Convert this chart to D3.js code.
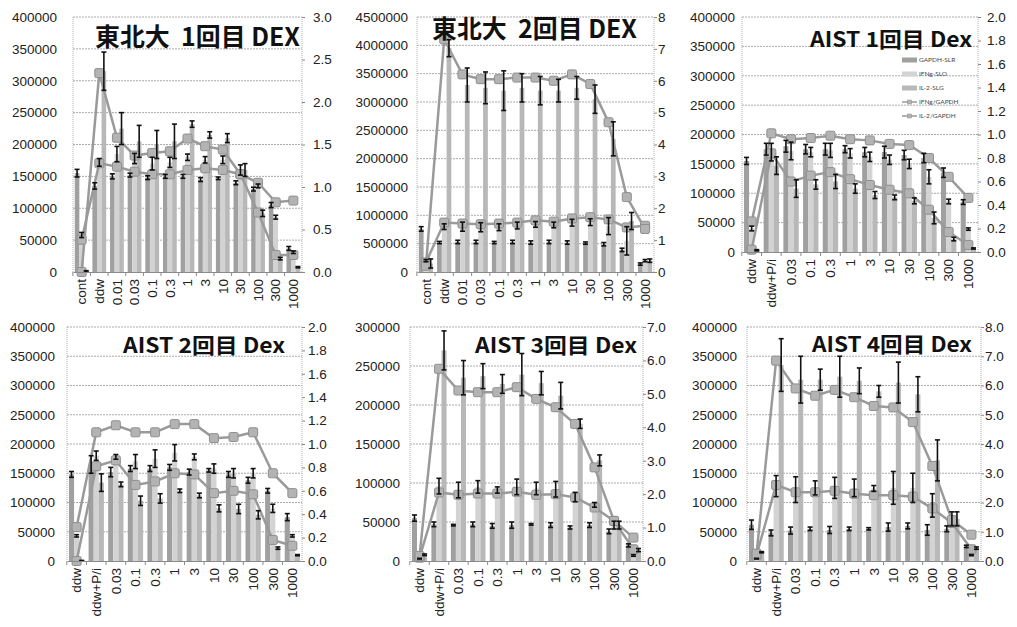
<!DOCTYPE html>
<html>
<head>
<meta charset="utf-8">
<script src="https://cdn.jsdelivr.net/npm/d3@7"></script>
<style>
  body { margin: 0; background: #fff; }
  svg { display: block; font-family: Lato, "Noto Sans", sans-serif; }
  .title { white-space: pre; }
</style>
</head>
<body>
<svg id="chart" width="1017" height="627"></svg>
<script>
// categories
const cats13 = ["cont", "ddw", "0.01", "0.03", "0.1", "0.3", "1", "3", "10", "30", "100", "300", "1000"];
const cats12 = ["ddw", "ddw+P/i", "0.03", "0.1", "0.3", "1", "3", "10", "30", "100", "300", "1000"];

// 東北大 1回目
const p1Gapdh = [155000, 135000, 150000, 152000, 148000, 150000, 150000, 145000, 147000, 140000, 130000, 105000, 37000];
const p1GapdhErr = [6000, 5000, 4000, 3000, 3000, 3000, 3000, 3000, 2000, 3000, 3000, 4000, 3000];
const p1Ifng = [58000, 172000, 185000, 178000, 170000, 172000, 180000, 176000, 176000, 160000, 135000, 86000, 31000];
const p1IfngErr = [4000, 6000, 12000, 8000, 10000, 8000, 5000, 5000, 6000, 8000, 3000, 3000, 2000];
const p1Il2 = [1000, 315000, 225000, 205000, 200000, 205000, 232000, 215000, 210000, 160000, 92000, 21000, 7500];
const p1Il2Err = [1000, 30000, 25000, 25000, 22000, 27000, 5000, 5000, 7000, 10000, 5000, 2000, 1000];
const p1IfngRatio = [0.38, 1.28, 1.24, 1.18, 1.15, 1.15, 1.2, 1.22, 1.2, 1.15, 1.05, 0.82, 0.84];
const p1Il2Ratio = [0.0, 2.34, 1.58, 1.37, 1.4, 1.42, 1.57, 1.48, 1.44, 1.15, 0.7, 0.2, 0.2];

// 東北大 2回目
const p2Gapdh = [760000, 520000, 530000, 530000, 520000, 530000, 520000, 530000, 520000, 510000, 490000, 390000, 140000];
const p2GapdhErr = [40000, 20000, 30000, 30000, 20000, 30000, 30000, 30000, 30000, 20000, 30000, 30000, 20000];
const p2Ifng = [200000, 800000, 800000, 790000, 790000, 820000, 840000, 830000, 870000, 880000, 810000, 550000, 200000];
const p2IfngErr = [20000, 50000, 80000, 80000, 60000, 60000, 50000, 50000, 60000, 60000, 150000, 250000, 20000];
const p2Il2 = [150000, 3950000, 3300000, 3250000, 3200000, 3250000, 3200000, 3200000, 3250000, 3050000, 2350000, 900000, 200000];
const p2Il2Err = [80000, 150000, 300000, 280000, 350000, 250000, 250000, 200000, 200000, 250000, 300000, 150000, 30000];
const p2IfngRatio = [0.3, 1.55, 1.52, 1.5, 1.52, 1.55, 1.62, 1.58, 1.68, 1.72, 1.65, 1.4, 1.45];
const p2Il2Ratio = [0.2, 7.3, 6.2, 6.05, 6.05, 6.1, 6.1, 6.0, 6.2, 5.9, 4.7, 2.35, 1.35];

// AIST 1回目
const p3Gapdh = [155000, 175000, 180000, 175000, 175000, 175000, 170000, 170000, 165000, 160000, 135000, 85000];
const p3GapdhErr = [6000, 10000, 10000, 8000, 10000, 6000, 8000, 10000, 8000, 8000, 8000, 4000];
const p3Ifng = [40000, 170000, 172000, 170000, 173000, 168000, 162000, 157000, 150000, 128000, 86000, 39000];
const p3IfngErr = [4000, 15000, 15000, 8000, 12000, 8000, 8000, 8000, 8000, 12000, 4000, 2000];
const p3Il2 = [3000, 147000, 108000, 115000, 120000, 108000, 97000, 93000, 87000, 58000, 22000, 6000];
const p3Il2Err = [1000, 15000, 15000, 8000, 12000, 8000, 6000, 4000, 5000, 10000, 3000, 1000];
const p3IfngRatio = [0.26, 1.01, 0.96, 0.97, 0.99, 0.96, 0.95, 0.92, 0.91, 0.8, 0.64, 0.46];
const p3Il2Ratio = [0.02, 0.84, 0.6, 0.65, 0.68, 0.62, 0.57, 0.53, 0.5, 0.36, 0.17, 0.06];

// AIST 2回目
const p4Gapdh = [148000, 165000, 152000, 158000, 158000, 160000, 152000, 155000, 148000, 138000, 120000, 75000];
const p4GapdhErr = [5000, 15000, 8000, 5000, 5000, 5000, 5000, 3000, 5000, 5000, 4000, 6000];
const p4Ifng = [43000, 180000, 178000, 170000, 175000, 185000, 178000, 158000, 150000, 150000, 90000, 43000];
const p4IfngErr = [2000, 8000, 4000, 12000, 15000, 14000, 5000, 8000, 8000, 8000, 7000, 2000];
const p4Il2 = [500, 134000, 131000, 103000, 107000, 120000, 112000, 90000, 89000, 79000, 22000, 10000];
const p4Il2Err = [500, 15000, 4000, 8000, 8000, 3000, 4000, 6000, 8000, 7000, 2000, 1000];
const p4IfngRatio = [0.29, 1.1, 1.16, 1.1, 1.1, 1.17, 1.17, 1.05, 1.06, 1.1, 0.75, 0.58];
const p4Il2Ratio = [0.0, 0.81, 0.86, 0.65, 0.68, 0.75, 0.74, 0.58, 0.6, 0.57, 0.18, 0.13];

// AIST 3回目
const p5Gapdh = [55000, 47000, 46000, 47000, 45000, 46000, 47000, 46000, 43000, 46000, 38000, 20000];
const p5GapdhErr = [4000, 3000, 1000, 3000, 3000, 4000, 1000, 3000, 2000, 3000, 3000, 2000];
const p5Ifng = [3000, 96000, 91000, 95000, 91000, 95000, 93000, 92000, 82000, 72000, 46000, 7000];
const p5IfngErr = [500, 10000, 10000, 8000, 4000, 10000, 8000, 10000, 6000, 3000, 5000, 1000];
const p5Il2 = [8000, 270000, 235000, 237000, 227000, 239000, 228000, 212000, 176000, 129000, 46000, 14000];
const p5Il2Err = [1000, 25000, 22000, 16000, 12000, 27000, 15000, 17000, 6000, 7000, 5000, 2000];
const p5IfngRatio = [0.1, 2.05, 1.98, 2.02, 2.02, 2.07, 1.98, 2.0, 1.9, 1.6, 1.2, 0.35];
const p5Il2Ratio = [0.15, 5.75, 5.1, 5.05, 5.05, 5.2, 4.85, 4.6, 4.1, 2.8, 1.2, 0.7];

// AIST 4回目
const p6Gapdh = [62000, 48000, 52000, 55000, 53000, 55000, 55000, 58000, 60000, 53000, 55000, 25000];
const p6GapdhErr = [8000, 5000, 6000, 3000, 6000, 3000, 2000, 7000, 5000, 9000, 5000, 2000];
const p6Ifng = [4000, 128000, 122000, 125000, 125000, 125000, 124000, 125000, 125000, 95000, 72000, 10000];
const p6IfngErr = [500, 18000, 22000, 12000, 18000, 15000, 5000, 28000, 25000, 20000, 12000, 1000];
const p6Il2 = [15000, 335000, 310000, 310000, 315000, 308000, 290000, 305000, 285000, 172000, 72000, 22000];
const p6Il2Err = [1000, 45000, 40000, 18000, 35000, 22000, 10000, 35000, 30000, 35000, 12000, 2000];
const p6IfngRatio = [0.2, 2.6, 2.35, 2.35, 2.4, 2.3, 2.25, 2.25, 2.2, 1.8, 1.3, 0.4];
const p6Il2Ratio = [0.25, 6.85, 5.9, 5.65, 5.85, 5.6, 5.3, 5.25, 4.75, 3.25, 1.4, 0.9];

const legendLabels = ["GAPDH-SLR", "IFNg-SLO", "IL-2-SLG", "IFNg/GAPDH", "IL-2/GAPDH"];
const barColors = ["#a0a0a0", "#d3d3d3", "#b8b8b8"];

const panels = [
  { title: "東北大  1回目 DEX", tx: 95, ty: 46, tw: 205, tsize: 25, cats: cats13,
    left: 73, right: 302, top: 17, bottom: 272, lx: 57, rx: 313,
    yMax: 400000, yStep: 50000, rMax: 3, rStep: 0.5, rFmt: ".1f",
    bars: [[p1Gapdh, p1GapdhErr], [p1Ifng, p1IfngErr], [p1Il2, p1Il2Err]], lines: [p1IfngRatio, p1Il2Ratio] },
  { title: "東北大  2回目 DEX", tx: 432, ty: 38, tw: 205, tsize: 25, cats: cats13,
    left: 417, right: 654, top: 17, bottom: 272, lx: 408, rx: 658,
    yMax: 4500000, yStep: 500000, rMax: 8, rStep: 1, rFmt: "d",
    bars: [[p2Gapdh, p2GapdhErr], [p2Ifng, p2IfngErr], [p2Il2, p2Il2Err]], lines: [p2IfngRatio, p2Il2Ratio] },
  { title: "AIST 1回目 Dex", tx: 810, ty: 47, tw: 162, tsize: 21, cats: cats12,
    left: 742, right: 978, top: 17, bottom: 252, lx: 735, rx: 987,
    yMax: 400000, yStep: 50000, rMax: 2, rStep: 0.2, rFmt: ".1f", legend: true,
    bars: [[p3Gapdh, p3GapdhErr], [p3Ifng, p3IfngErr], [p3Il2, p3Il2Err]], lines: [p3IfngRatio, p3Il2Ratio] },
  { title: "AIST 2回目 Dex", tx: 123, ty: 353, tw: 162, tsize: 21, cats: cats12,
    left: 67, right: 302, top: 327, bottom: 561, lx: 55, rx: 308,
    yMax: 400000, yStep: 50000, rMax: 2, rStep: 0.2, rFmt: ".1f",
    bars: [[p4Gapdh, p4GapdhErr], [p4Ifng, p4IfngErr], [p4Il2, p4Il2Err]], lines: [p4IfngRatio, p4Il2Ratio] },
  { title: "AIST 3回目 Dex", tx: 475, ty: 353, tw: 162, tsize: 21, cats: cats12,
    left: 410, right: 643, top: 327, bottom: 561, lx: 400, rx: 647,
    yMax: 300000, yStep: 50000, rMax: 7, rStep: 1, rFmt: ".1f",
    bars: [[p5Gapdh, p5GapdhErr], [p5Ifng, p5IfngErr], [p5Il2, p5Il2Err]], lines: [p5IfngRatio, p5Il2Ratio] },
  { title: "AIST 4回目 Dex", tx: 812, ty: 352, tw: 160, tsize: 21, cats: cats12,
    left: 747, right: 981, top: 327, bottom: 561, lx: 737, rx: 985,
    yMax: 400000, yStep: 50000, rMax: 8, rStep: 1, rFmt: ".1f",
    bars: [[p6Gapdh, p6GapdhErr], [p6Ifng, p6IfngErr], [p6Il2, p6Il2Err]], lines: [p6IfngRatio, p6Il2Ratio] }
];

const svg = d3.select("#chart");

function drawPanel(p) {
  const g = svg.append("g");

  const x = d3.scaleBand().domain(p.cats).range([p.left, p.right]).paddingInner(0.22).paddingOuter(0.1);
  const xs = d3.scaleBand().domain([0, 1, 2]).range([0, x.bandwidth()]);
  const y = d3.scaleLinear().domain([0, p.yMax]).range([p.bottom, p.top]);
  const r = d3.scaleLinear().domain([0, p.rMax]).range([p.bottom, p.top]);

  const yTicks = d3.range(0, p.yMax + 1, p.yStep);
  const rTicks = d3.range(0, p.rMax + p.rStep / 2, p.rStep);

  // gridlines
  g.append("g").selectAll("line").data(yTicks.slice(1)).join("line")
    .attr("x1", p.left).attr("x2", p.right)
    .attr("y1", d => y(d)).attr("y2", d => y(d))
    .attr("stroke", "#ababab").attr("stroke-dasharray", "2,1");

  // plot borders (dotted)
  g.append("g").selectAll("line").data([p.left, p.right]).join("line")
    .attr("x1", d => d).attr("x2", d => d)
    .attr("y1", p.top).attr("y2", p.bottom)
    .attr("stroke", "#b0b0b0").attr("stroke-dasharray", "1,1");

  // left axis
  const la = g.append("g").attr("transform", `translate(${p.lx},0)`)
    .call(d3.axisLeft(y).tickValues(yTicks).tickSize(0).tickPadding(0).tickFormat(d3.format("d")));
  la.select(".domain").remove();
  la.selectAll("text").attr("font-size", 13.5).attr("fill", "#222");

  // right axis
  const ra = g.append("g").attr("transform", `translate(${p.right},0)`)
    .call(d3.axisRight(r).tickValues(rTicks).tickSize(3).tickPadding(p.rx - p.right - 3).tickFormat(d3.format(p.rFmt)));
  ra.select(".domain").remove();
  ra.selectAll("line").attr("stroke", "#888");
  ra.selectAll("text").attr("font-size", 13.5).attr("fill", "#222");

  // bars
  p.bars.forEach((s, i) => {
    g.append("g").selectAll("rect").data(p.cats).join("rect")
      .attr("x", (c) => x(c) + xs(i))
      .attr("width", xs.bandwidth())
      .attr("y", (c, k) => y(s[0][k]))
      .attr("height", (c, k) => p.bottom - y(s[0][k]))
      .attr("fill", barColors[i]);
  });

  // ratio lines
  const line = d3.line().x((v, k) => x(p.cats[k]) + x.bandwidth() / 2).y(v => r(v));
  p.lines.forEach(vals => {
    g.append("path").datum(vals).attr("d", line)
      .attr("fill", "none").attr("stroke", "#9a9a9a").attr("stroke-width", 2.5);
  });
  p.lines.forEach(vals => {
    g.append("g").selectAll("rect").data(vals).join("rect")
      .attr("x", (v, k) => x(p.cats[k]) + x.bandwidth() / 2 - 4.5)
      .attr("y", v => r(v) - 4.5)
      .attr("width", 9).attr("height", 9).attr("rx", 1.5)
      .attr("fill", "#b3b3b3").attr("stroke", "#8f8f8f").attr("stroke-width", 1);
  });

  // error bars
  p.bars.forEach((s, i) => {
    const eg = g.append("g").attr("stroke", "#111").attr("stroke-width", 1.6);
    p.cats.forEach((c, k) => {
      const cx = x(c) + xs(i) + xs.bandwidth() / 2;
      const lo = y(Math.max(0, s[0][k] - s[1][k]));
      const hi = y(s[0][k] + s[1][k]);
      eg.append("line").attr("x1", cx).attr("x2", cx).attr("y1", lo).attr("y2", hi);
      eg.append("line").attr("x1", cx - 2.5).attr("x2", cx + 2.5).attr("y1", lo).attr("y2", lo);
      eg.append("line").attr("x1", cx - 2.5).attr("x2", cx + 2.5).attr("y1", hi).attr("y2", hi);
    });
  });

  // x axis
  const xa = g.append("g").attr("transform", `translate(0,${p.bottom})`)
    .call(d3.axisBottom(x).tickSize(0));
  xa.select(".domain").attr("stroke", "#8a8a8a");
  xa.selectAll("text")
    .attr("transform", "rotate(-90)")
    .attr("text-anchor", "end")
    .attr("x", -7).attr("y", 0).attr("dy", "0.35em")
    .attr("font-size", 13.5).attr("fill", "#222");
  const step = x.step();
  g.append("g").selectAll("line").data(p.cats).join("line")
    .attr("x1", c => x(c) - step * x.paddingInner() / 2)
    .attr("x2", c => x(c) - step * x.paddingInner() / 2)
    .attr("y1", p.bottom).attr("y2", p.bottom + 4)
    .attr("stroke", "#8a8a8a");

  // title
  g.append("text").attr("class", "title").attr("x", p.tx).attr("y", p.ty)
    .attr("font-family", "'Noto Sans CJK JP', 'Noto Sans', sans-serif")
    .attr("font-weight", "bold").attr("font-size", p.tsize)
    .attr("textLength", p.tw).attr("lengthAdjust", "spacingAndGlyphs")
    .attr("fill", "#111")
    .text(p.title);

  if (p.legend) {
    const lg = g.append("g");
    const ly = [60, 74, 88, 102, 116];
    legendLabels.forEach((t, i) => {
      if (i < 3) {
        lg.append("rect").attr("x", 902).attr("y", ly[i] - 2.5).attr("width", 15).attr("height", 5).attr("fill", barColors[i]);
      } else {
        lg.append("line").attr("x1", 902).attr("x2", 917).attr("y1", ly[i]).attr("y2", ly[i]).attr("stroke", "#9a9a9a").attr("stroke-width", 1.5);
        lg.append("rect").attr("x", 907.5).attr("y", ly[i] - 2).attr("width", 4).attr("height", 4).attr("fill", "#b3b3b3").attr("stroke", "#8f8f8f").attr("stroke-width", 0.5);
      }
      lg.append("text").attr("x", 919).attr("y", ly[i]).attr("dy", "0.35em")
        .attr("font-size", 6.5).attr("fill", "#444").text(t);
    });
  }
}

panels.forEach(drawPanel);
</script>
</body>
</html>
